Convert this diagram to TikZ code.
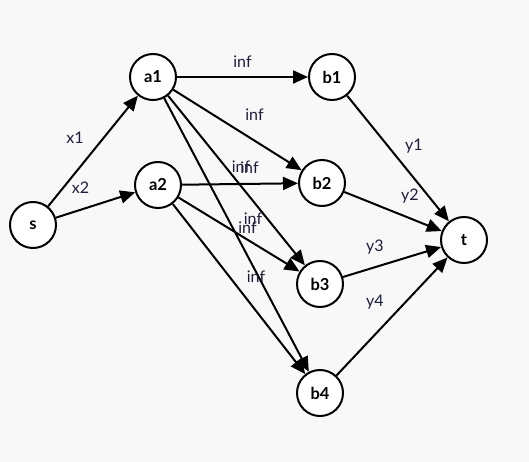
\documentclass[tikz,border=0pt]{standalone}
\usepackage{fontspec}
\setmainfont{Lato}
\usetikzlibrary{arrows.meta}
\definecolor{bgcol}{HTML}{F8F8F8}
\definecolor{lblcol}{HTML}{1E1E3C}
\begin{document}
\begin{tikzpicture}[x=1pt, y=-1pt,
    vtx/.style={circle, draw, line width=2pt, fill=white, minimum size=46pt, inner sep=0pt, font=\bfseries\fontsize{16.5}{18}\selectfont},
    lbl/.style={text=lblcol, inner sep=0pt, font=\fontsize{16}{18}\selectfont},
    flow/.style={line width=2pt, -{Triangle[length=15pt, width=13pt]}}]
    \fill[bgcol] (0,0) rectangle (529,462);
    \node[vtx] (s) at (33,225) {s};
    \node[vtx] (a1) at (153,77) {a1};
    \node[vtx] (a2) at (158,185) {a2};
    \node[vtx] (b1) at (332,77) {b1};
    \node[vtx] (b2) at (322,183) {b2};
    \node[vtx] (b3) at (320,284) {b3};
    \node[vtx] (b4) at (320,393) {b4};
    \node[vtx] (t) at (464,240) {t};
    % source side
    \draw[flow] (s) -- (a1) node[lbl, pos=.5, xshift=-18pt, yshift=13pt] {x1};
    \draw[flow] (s) -- (a2) node[lbl, pos=.5, xshift=-15pt, yshift=17pt] {x2};
    % middle
    \draw[flow] (a1) -- (b1) node[lbl, pos=.5, yshift=15pt] {inf};
    \draw[flow] (a1) -- (b2) node[lbl, pos=.5, xshift=17pt, yshift=15pt] {inf};
    \draw[flow] (a1) -- (b3) node[lbl, pos=.5, xshift=13pt, yshift=13pt] {inf};
    \draw[flow] (a1) -- (b4) node[lbl, pos=.5, xshift=11pt, yshift=7pt] {inf};
    \draw[flow] (a2) -- (b2) node[lbl, pos=.5, xshift=1pt, yshift=17pt] {inf};
    \draw[flow] (a2) -- (b3) node[lbl, pos=.5, xshift=14pt, yshift=16pt] {inf};
    \draw[flow] (a2) -- (b4) node[lbl, pos=.5, xshift=17pt, yshift=12pt] {inf};
    % sink side
    \draw[flow] (b1) -- (t) node[lbl, pos=.5, xshift=16pt, yshift=12pt] {y1};
    \draw[flow] (b2) -- (t) node[lbl, pos=.5, xshift=17pt, yshift=15pt] {y2};
    \draw[flow] (b3) -- (t) node[lbl, pos=.5, xshift=-17pt, yshift=15pt] {y3};
    \draw[flow] (b4) -- (t) node[lbl, pos=.5, xshift=-17pt, yshift=14pt] {y4};
\end{tikzpicture}
\end{document}
